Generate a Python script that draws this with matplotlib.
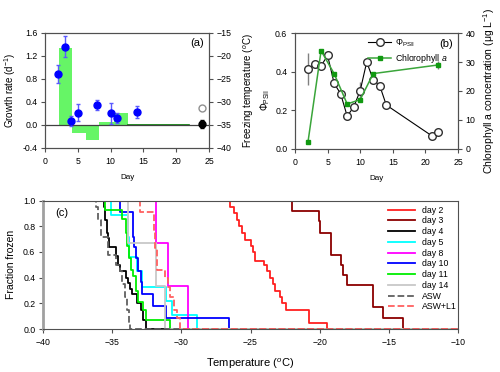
import numpy as np
import matplotlib
matplotlib.use('Agg')
import matplotlib.pyplot as plt
from matplotlib.lines import Line2D

plt.rcParams['font.family'] = ['Liberation Sans', 'DejaVu Sans']
plt.rcParams['mathtext.fontset'] = 'custom'
plt.rcParams['mathtext.rm'] = 'Liberation Sans'
plt.rcParams['mathtext.it'] = 'Liberation Sans:italic'
plt.rcParams['axes.edgecolor'] = '#505050'
plt.rcParams['xtick.color'] = '#505050'
plt.rcParams['ytick.color'] = '#505050'
plt.rcParams['xtick.labelcolor'] = 'black'
plt.rcParams['ytick.labelcolor'] = 'black'
plt.rcParams['ytick.major.pad'] = 2.5

#------------------------------------------------------------
# (a) growth rate and freezing temperature
growth_day = [2, 3, 4, 5, 8, 10, 11, 14]
growth_rate = [0.88, 1.36, 0.06, 0.21, 0.34, 0.20, 0.12, 0.22]
growth_err = [0.16, 0.19, 0.09, 0.15, 0.09, 0.18, 0.09, 0.11]
ctrl_day = [24]
ctrl_open = [0.29]
ctrl_open_err = [0.04]
ctrl_filled = [0.01]
ctrl_filled_err = [0.07]
freeze_edges = [2.1, 4.15, 6.25, 8.2, 10.5, 12.6]
freeze_temp = [-18.4, -36.8, -38.4, -34.5, -32.5]
freeze_base = -35
freeze_tail = [12.6, 22]

# (b) PSII efficiency and chlorophyll a
phi_day = [2, 3, 4, 5, 6, 7, 8, 9, 10, 11, 12, 13, 14, 21, 22]
phi_val = [0.413, 0.44, 0.43, 0.484, 0.34, 0.285, 0.17, 0.216, 0.302, 0.45,
           0.358, 0.327, 0.227, 0.067, 0.085]
phi_err = [0.083, 0, 0, 0, 0, 0, 0, 0, 0.045, 0, 0, 0, 0, 0, 0]
chl_day = [2, 4, 6, 8, 10, 12, 22]
chl_val = [2.5, 33.9, 26, 15.5, 17, 26, 29]
chl_err = [0, 0, 0, 0, 0, 0, 1.5]

# (c) freezing curves: temperature of each step, fraction frozen after it
curve_names = ['day 2', 'day 3', 'day 4', 'day 5', 'day 8', 'day 10',
               'day 11', 'day 14', 'ASW', 'ASW+L1']
curve_T = [
    [-26.5, -26.2, -26.0, -25.8, -25.6, -25.4, -25.0, -24.8, -24.7, -24.0,
     -23.8, -23.6, -23.4, -23.2, -22.9, -22.7, -22.4, -20.8, -19.45],
    [-21.97, -20.04, -19.95, -19.15, -18.45, -18.3, -18.05, -16.15, -15.45, -13.95],
    [-35.6, -35.5, -35.4, -35.3, -35.2, -34.7, -34.55, -34.45, -34.0, -33.85,
     -33.7, -33.6, -33.2, -32.9, -32.75, -32.55],
    [-35.05, -33.85, -33.75, -33.2, -32.85, -31.1, -30.7, -28.9],
    [-31.8, -31.0, -29.5],
    [-34.45, -33.5, -33.4, -33.3, -33.1, -32.95, -32.85, -32.05, -31.1, -26.55],
    [-35.5, -34.3, -34.0, -33.9, -33.8, -33.65, -33.5, -33.3, -33.1, -32.8,
     -32.55, -30.85],
    [-33.85, -31.8, -31.15],
    [-36.2, -36.0, -35.8, -35.3, -34.7, -34.45, -34.3, -34.1, -33.95, -33.8, -33.7],
    [-33.0, -32.0, -31.9, -31.75, -31.15, -31.0, -30.8, -30.55, -30.3, -30.1],
]
curve_F = [
    [0.95, 0.90, 0.85, 0.80, 0.75, 0.69, 0.65, 0.60, 0.53, 0.50,
     0.45, 0.40, 0.35, 0.30, 0.25, 0.20, 0.15, 0.05, 0.0],
    [0.92, 0.84, 0.75, 0.58, 0.50, 0.42, 0.34, 0.175, 0.09, 0.0],
    [0.95, 0.85, 0.75, 0.71, 0.64, 0.57, 0.50, 0.455, 0.40, 0.36,
     0.31, 0.27, 0.20, 0.15, 0.07, 0.0],
    [0.89, 0.72, 0.56, 0.45, 0.33, 0.22, 0.11, 0.0],
    [0.667, 0.333, 0.0],
    [0.91, 0.72, 0.64, 0.55, 0.45, 0.37, 0.27, 0.18, 0.09, 0.0],
    [0.93, 0.855, 0.75, 0.65, 0.55, 0.46, 0.41, 0.30, 0.215, 0.15, 0.075, 0.0],
    [0.667, 0.333, 0.0],
    [0.95, 0.85, 0.72, 0.58, 0.50, 0.45, 0.35, 0.25, 0.15, 0.05, 0.0],
    [0.91, 0.75, 0.63, 0.46, 0.40, 0.33, 0.25, 0.15, 0.085, 0.0],
]
curve_colors = ['#ff2020', '#8b0000', 'black', '#00ffff', '#ff00ff', '#0000ff',
                '#00ee00', '#c8c8c8', '#606060', '#ff6060']
curve_styles = ['-', '-', '-', '-', '-', '-', '-', '-', '--', '--']

#------------------------------------------------------------
fig = plt.figure(figsize=(5.0, 3.72), dpi=100)
TICK = 6.3
LAB = 7

# panel (a)
axA = fig.add_axes([0.09, 0.603, 0.328, 0.309])
axA2 = axA.twinx()
lefts = freeze_edges[:-1]
widths = np.diff(freeze_edges)
heights = np.array(freeze_temp) - freeze_base
axA2.bar(lefts, heights, width=widths, bottom=freeze_base, align='edge',
         color='#66f566', edgecolor='none')
axA2.plot(freeze_tail, [freeze_base, freeze_base], color='#008000', lw=1.2)
axA2.set_ylim(-40, -15)
axA2.set_yticks(np.arange(-40, -14, 5))
axA2.tick_params(labelsize=TICK, length=3)
axA2.set_ylabel('Freezing temperature ($^{o}$C)', fontsize=LAB, labelpad=7)
axA.set_zorder(axA2.get_zorder() + 1)
axA.patch.set_visible(False)
axA.axhline(0, color='#404040', lw=0.9, zorder=1)
axA.errorbar(growth_day, growth_rate, yerr=growth_err, fmt='o', color='#0000ff',
             ecolor='#5a5aff', ms=5, elinewidth=1, capsize=1.5, zorder=3)
axA.errorbar(ctrl_day, ctrl_open, yerr=ctrl_open_err, fmt='o', mfc='white',
             mec='#909090', ecolor='#909090', ms=5, elinewidth=1, capsize=1.5)
axA.errorbar(ctrl_day, ctrl_filled, yerr=ctrl_filled_err, fmt='o', color='black',
             ms=5, elinewidth=1, capsize=1.5, zorder=3)
axA.set_xlim(0, 25)
axA.set_ylim(-0.4, 1.6)
axA.set_xticks(np.arange(0, 26, 5))
axA.set_yticks(np.arange(-0.4, 1.61, 0.4))
axA.set_yticklabels(['%.1f' % v for v in np.arange(-0.4, 1.61, 0.4)])
axA.tick_params(labelsize=TICK, length=3)
axA.set_xlabel('Day', fontsize=5.8, labelpad=6)
axA.set_ylabel('Growth rate (d$^{-1}$)', fontsize=LAB, labelpad=3)
axA.text(0.97, 0.91, '(a)', transform=axA.transAxes, ha='right', va='center', fontsize=8)

# panel (b)
axB = fig.add_axes([0.59, 0.600, 0.326, 0.311])
axB2 = axB.twinx()
axB.errorbar(phi_day, phi_val, yerr=phi_err, color='black', lw=0.8,
             ecolor='#808080', elinewidth=1, capsize=0,
             marker='o', mfc='white', mec='#303030', ms=5.5)
axB2.errorbar(chl_day, chl_val, yerr=chl_err, color='#3aa53a', lw=1.1,
              ecolor='#808080', elinewidth=1, capsize=0,
              marker='s', mfc='#119911', mec='#119911', ms=3.5)
axB.set_xlim(0, 25)
axB.set_ylim(0, 0.6)
axB.set_xticks(np.arange(0, 26, 5))
axB.set_yticks([0, 0.2, 0.4, 0.6])
axB.set_yticklabels(['0.0', '0.2', '0.4', '0.6'])
axB.tick_params(labelsize=TICK, length=3)
axB.set_xlabel('Day', fontsize=5.8, labelpad=6)
axB.set_ylabel(r'$\mathit{\Phi}_{\rm PSII}$', fontsize=7, labelpad=2)
axB.yaxis.label.set_y(0.42)
axB2.set_ylim(0, 40)
axB2.set_yticks(np.arange(0, 41, 10))
axB2.tick_params(labelsize=TICK, length=3)
axB2.set_ylabel('Chlorophyll a concentration (\u03bcg L$^{-1}$)', fontsize=7.5, labelpad=4)
legB = [Line2D([], [], color='black', lw=0.8, marker='o', mfc='white',
               mec='#303030', ms=5.5),
        Line2D([], [], color='#3aa53a', lw=1.1, marker='s', mfc='#119911',
               mec='#119911', ms=3.5)]
axB2.legend(legB, [r'$\mathit{\Phi}_{\rm PSII}$', r'Chlorophyll $\mathit{a}$'],
            loc='upper left', bbox_to_anchor=(0.45, 0.965), frameon=False,
            fontsize=6.3, handlelength=2.6, handletextpad=0.4, labelspacing=0.35,
            borderaxespad=0, borderpad=0)
axB2.text(0.97, 0.91, '(b)', transform=axB2.transAxes, ha='right', va='center', fontsize=8)

# panel (c)
axC = fig.add_axes([0.086, 0.115, 0.830, 0.346])
for name, T, F, c, ls in zip(curve_names, curve_T, curve_F, curve_colors, curve_styles):
    x = [-40] + T + [-10]
    y = [1.0] + F + [F[-1]]
    axC.step(x, y, where='post', color=c, ls=ls, lw=1.3, label=name)
axC.set_xlim(-40, -10)
axC.set_ylim(0, 1.0)
axC.set_xticks(np.arange(-40, -9, 5))
axC.set_yticks(np.arange(0, 1.01, 0.2))
axC.set_yticklabels(['%.1f' % v for v in np.arange(0, 1.01, 0.2)])
axC.tick_params(labelsize=TICK, length=3)
axC.spines['left'].set_color('#a0a0a0')
axC.spines['left'].set_linewidth(2)
axC.set_xlabel('Temperature ($^{o}$C)', fontsize=8, labelpad=7)
axC.set_ylabel('Fraction frozen', fontsize=7.5, labelpad=5)
axC.text(0.03, 0.9, '(c)', transform=axC.transAxes, ha='left', va='center', fontsize=8)
axC.legend(loc='upper left', bbox_to_anchor=(0.832, 0.96), frameon=False,
           fontsize=6.3, handlelength=3.1, handletextpad=0.7, labelspacing=0.2,
           borderaxespad=0, borderpad=0)

fig.savefig('out.png', dpi=100)
